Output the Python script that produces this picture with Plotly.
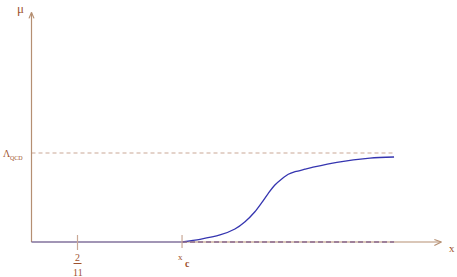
import plotly.graph_objects as go

# ---- data (x in units where 2/11 is the first tick, mu in units of Lambda_QCD)
curve_x = [0.0, 0.595, 0.666, 0.745, 0.804, 0.844, 0.883, 0.910, 0.936, 0.962, 0.989, 1.015, 1.042, 1.081, 1.113, 1.207, 1.338, 1.433]
curve_y = [0.0, 0.0, 0.030, 0.079, 0.146, 0.228, 0.340, 0.442, 0.547, 0.640, 0.708, 0.761, 0.790, 0.818, 0.840, 0.895, 0.942, 0.955]
x_c = 0.595
x_tick = 2 / 11
lambda_qcd = 1.0
x_end = 1.433
x_axis_end = 1.62
y_axis_end = 2.58

# pixel scale helpers (figure geometry)
W, H = 457, 277
X0PX, Y0PX = 31.5, 242.0
SX, SY = 253.0, 89.0
xr = [-X0PX / SX, (W - X0PX) / SX]
yr = [-(H - Y0PX) / SY, Y0PX / SY]
def dx(p): return p / SX
def dy(p): return p / SY

AX = "#b58f72"
TXT = "#a0522d"
DASH = "#c9a896"
BLUE = "#3535b0"

fig = go.Figure()

def line(xs, ys, color, width=1.2, dash=None, opacity=1.0, shape="linear"):
    fig.add_trace(go.Scatter(x=xs, y=ys, mode="lines", opacity=opacity,
                             line=dict(color=color, width=width, dash=dash, shape=shape),
                             hoverinfo="skip", showlegend=False))

# lambda dashed line
line([0, x_end], [lambda_qcd, lambda_qcd], DASH, 1.2, "4px,3px")
# axes
line([0, x_axis_end], [0, 0], AX, 1.2)
line([0, 0], [0, y_axis_end], AX, 1.2)
# flat part of the curve (overlapping the axis)
line(curve_x[:2], curve_y[:2], BLUE, 1.3, opacity=0.45)
# rising part
fig.add_trace(go.Scatter(x=curve_x[1:], y=curve_y[1:], mode="lines",
                         line=dict(color=BLUE, width=1.3, shape="spline", smoothing=0.8),
                         hoverinfo="skip", showlegend=False))
# dashed mu=0 continuation
line([x_c, x_end], [0, 0], "#8a6a8e", 1.4, "5px,3px")
# arrowheads
line([x_axis_end - dx(7), x_axis_end, x_axis_end - dx(7)], [dy(2.5), 0, -dy(3.5)], AX, 1.2)
line([-dx(2.5), 0, dx(2.5)], [y_axis_end - dy(6), y_axis_end, y_axis_end - dy(6)], AX, 1.2)
# ticks
line([x_tick, x_tick], [dy(7), -dy(8)], DASH, 1.2)
line([x_c, x_c], [dy(7), -dy(6)], DASH, 1.2)

ann = []
def text(x, y, s, size, xanchor="center", yanchor="middle"):
    ann.append(dict(x=x, y=y, text=s, showarrow=False, xanchor=xanchor, yanchor=yanchor,
                    font=dict(family="Liberation Serif", size=size, color=TXT)))

text(-dx(11.5), y_axis_end + dy(3.5), "μ", 13)
text(-dx(25), lambda_qcd, "Λ", 10)
text(-dx(15.5), lambda_qcd - dy(5), "QCD", 6)
text(x_tick, -dy(15), "2", 10)
text(x_tick, -dy(30), "11", 10)
text(x_c - dx(2), -dy(15), "x", 9)
text(x_c + dx(5), -dy(21), "<b>c</b>", 10)
text(x_axis_end + dx(10.5), -dy(6), "x", 11)
fig.update_layout(annotations=ann)
fig.add_shape(type="line", x0=x_tick - dx(4), x1=x_tick + dx(4), y0=-dy(21.5), y1=-dy(21.5),
              line=dict(color=TXT, width=1))

fig.update_layout(width=W, height=H, margin=dict(l=0, r=0, t=0, b=0),
                  paper_bgcolor="white", plot_bgcolor="white",
                  xaxis=dict(range=xr, visible=False, fixedrange=True),
                  yaxis=dict(range=yr, visible=False, fixedrange=True))
fig.write_html("out.html", config={"displayModeBar": False},
               post_script="document.body.style.margin='0';document.body.style.overflow='hidden';")
